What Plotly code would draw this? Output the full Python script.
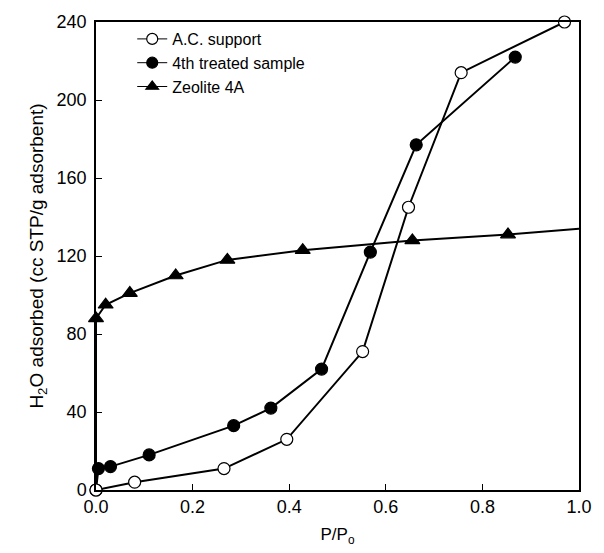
import plotly.graph_objects as go

# Water adsorption isotherms (relative pressure vs. uptake)
ac_p = [0.0, 0.08, 0.265, 0.395, 0.552, 0.647, 0.756, 0.97]
ac_v = [0, 4, 11, 26, 71, 145, 214, 240]

treated_p = [0.0, 0.005, 0.03, 0.11, 0.285, 0.362, 0.467, 0.568, 0.663, 0.868]
treated_v = [0, 11, 12, 18, 33, 42, 62, 122, 177, 222]

zeolite_p = [0.0, 0.0, 0.02, 0.07, 0.165, 0.272, 0.428, 0.655, 0.853, 1.0]
zeolite_v = [0, 88, 95, 101, 110, 118, 123, 128, 131, 134]
# first and last zeolite points are line-only (no marker drawn)
zeolite_marker_sizes = [0, 13, 13, 13, 13, 13, 13, 13, 13, 0]

x_ticks = [0.0, 0.2, 0.4, 0.6, 0.8, 1.0]
y_ticks = [0, 40, 80, 120, 160, 200, 240]

FONT = "Liberation Sans, Arial, sans-serif"

series = [
    ("A.C. support", ac_p, ac_v, "circle", 12, "white"),
    ("4th treated sample", treated_p, treated_v, "circle", 12, "black"),
    ("Zeolite 4A", zeolite_p, zeolite_v, "triangle-up", zeolite_marker_sizes, "black"),
]

fig = go.Figure()

# data curves (drawn back to front: zeolite, treated, support)
for name, px, py, sym, size, fill in reversed(series):
    fig.add_trace(go.Scatter(
        x=px, y=py, mode="lines+markers", name=name, showlegend=False,
        line=dict(color="black", width=2),
        marker=dict(symbol=sym, size=size, color=fill, opacity=1,
                    line=dict(color="black", width=1.2)),
        cliponaxis=False,
    ))

# legend keys with thin connector lines
for rank, (name, _, _, sym, _, fill) in enumerate(series, start=1):
    fig.add_trace(go.Scatter(
        x=[None], y=[None], mode="lines+markers", name=name,
        line=dict(color="black", width=1),
        marker=dict(symbol=sym, size=11, color=fill, opacity=1,
                    line=dict(color="black", width=1.2)),
        legendrank=rank,
    ))

fig.update_layout(
    width=604, height=553,
    margin=dict(l=96, r=24, t=18, b=63),
    paper_bgcolor="white", plot_bgcolor="white",
    font=dict(family=FONT, size=16, color="black"),
    showlegend=True,
    legend=dict(x=0.075, y=1.0, xanchor="left", yanchor="top",
                bgcolor="rgba(0,0,0,0)", font=dict(size=16, family=FONT),
                tracegroupgap=0),
    xaxis=dict(
        range=[0, 1.0], tickvals=x_ticks, tickformat=".1f",
        showline=True, linecolor="black", linewidth=1.5, mirror=True,
        ticks="inside", ticklen=6, tickcolor="black",
        showgrid=False, zeroline=False,
        tickfont=dict(size=18),
        title=dict(text="P/P<sub>o</sub>", font=dict(size=17), standoff=12),
    ),
    yaxis=dict(
        range=[0, 240], tickvals=y_ticks,
        showline=True, linecolor="black", linewidth=1.5, mirror=True,
        ticks="inside", ticklen=6, tickcolor="black",
        showgrid=False, zeroline=False,
        tickfont=dict(size=18), ticklabelstandoff=4,
        title=dict(text="H<sub>2</sub>O adsorbed (cc STP/g adsorbent)",
                   font=dict(size=19), standoff=8),
    ),
)

fig.write_html("out.html")
